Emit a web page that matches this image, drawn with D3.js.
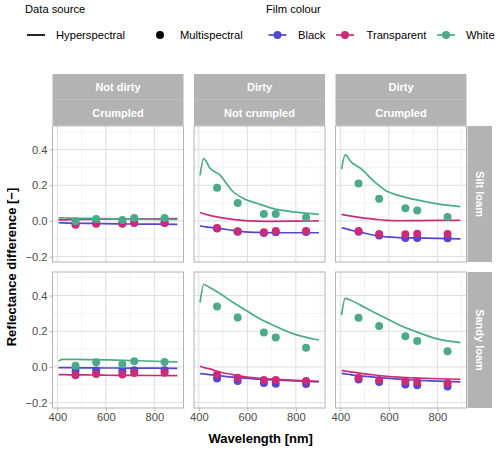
<!DOCTYPE html>
<html>
<head>
<meta charset="utf-8">
<script src="https://cdn.jsdelivr.net/npm/d3@7"></script>
<style>
  body { margin: 0; background: #fff; }
  svg { font-family: "Liberation Sans", Arial, sans-serif; }
</style>
</head>
<body>
<div id="chart"></div>
<script>
// facets
const dirtLabels = ["Not dirty", "Dirty", "Dirty"];
const crumpleLabels = ["Crumpled", "Not crumpled", "Crumpled"];
const soils = ["Silt loam", "Sandy loam"];
const films = ["Black", "Transparent", "White"];
const filmColours = ["#5547cc", "#cc2a7a", "#4caa8b"];

// wavelengths
const hyperWl = [405, 420, 445, 485, 540, 590, 640, 700, 800, 895];
const multiWl = [475, 560, 668, 717, 842];

const xTicks = [400, 600, 800];
const xMinor = [500, 700, 900];
const yTicks = [-0.2, 0.0, 0.2, 0.4];
const yMinor = [-0.1, 0.1, 0.3, 0.5];

// hyperspectral lines, per panel: [Black, Transparent, White]
const hyperSilt1 = [
    [-0.010, -0.011, -0.012, -0.013, -0.014, -0.015, -0.016, -0.017, -0.018, -0.019],
    [0.006, 0.006, 0.007, 0.008, 0.009, 0.010, 0.011, 0.012, 0.012, 0.013],
    [0.017, 0.017, 0.016, 0.015, 0.014, 0.013, 0.012, 0.011, 0.009, 0.008]
];
const hyperSilt2 = [
    [-0.028, -0.031, -0.036, -0.042, -0.053, -0.061, -0.064, -0.066, -0.066, -0.066],
    [0.047, 0.040, 0.031, 0.020, 0.009, 0.002, -0.001, -0.002, -0.001, 0.000],
    [0.255, 0.349, 0.297, 0.259, 0.165, 0.122, 0.099, 0.072, 0.049, 0.037]
];
const hyperSilt3 = [
    [-0.038, -0.043, -0.052, -0.064, -0.080, -0.089, -0.093, -0.095, -0.098, -0.100],
    [0.037, 0.033, 0.027, 0.019, 0.010, 0.003, 0.001, 0.002, 0.003, 0.004],
    [0.290, 0.370, 0.330, 0.293, 0.220, 0.168, 0.143, 0.122, 0.096, 0.080]
];
const hyperSandy1 = [
    [-0.004, -0.004, -0.004, -0.005, -0.005, -0.006, -0.006, -0.007, -0.007, -0.008],
    [-0.043, -0.043, -0.044, -0.044, -0.045, -0.046, -0.047, -0.047, -0.048, -0.049],
    [0.033, 0.042, 0.043, 0.042, 0.041, 0.040, 0.038, 0.036, 0.032, 0.028]
];
const hyperSandy2 = [
    [-0.037, -0.039, -0.043, -0.049, -0.057, -0.063, -0.068, -0.072, -0.078, -0.084],
    [0.004, -0.003, -0.011, -0.028, -0.043, -0.055, -0.062, -0.068, -0.075, -0.080],
    [0.360, 0.462, 0.445, 0.413, 0.363, 0.321, 0.279, 0.238, 0.181, 0.151]
];
const hyperSandy3 = [
    [-0.036, -0.039, -0.044, -0.050, -0.057, -0.063, -0.068, -0.073, -0.079, -0.084],
    [-0.019, -0.023, -0.028, -0.036, -0.045, -0.052, -0.057, -0.061, -0.066, -0.069],
    [0.290, 0.384, 0.372, 0.345, 0.305, 0.272, 0.237, 0.204, 0.157, 0.136]
];

// multispectral points, per panel: [Black, Transparent, White]
const multiSilt1 = [
    [-0.017, -0.012, -0.011, -0.008, -0.008],
    [-0.021, -0.016, -0.015, -0.012, -0.012],
    [-0.002, 0.011, 0.005, 0.017, 0.017]
];
const multiSilt2 = [
    [-0.042, -0.061, -0.068, -0.064, -0.062],
    [-0.040, -0.058, -0.064, -0.057, -0.057],
    [0.186, 0.101, 0.039, 0.039, 0.019]
];
const multiSilt3 = [
    [-0.060, -0.082, -0.096, -0.096, -0.097],
    [-0.057, -0.073, -0.075, -0.072, -0.073],
    [0.210, 0.124, 0.071, 0.058, 0.022]
];
const multiSandy1 = [
    [-0.022, -0.020, -0.022, -0.018, -0.018],
    [-0.046, -0.040, -0.043, -0.034, -0.032],
    [0.007, 0.026, 0.015, 0.032, 0.028]
];
const multiSandy2 = [
    [-0.065, -0.079, -0.090, -0.094, -0.096],
    [-0.043, -0.060, -0.073, -0.073, -0.079],
    [0.339, 0.277, 0.193, 0.165, 0.108]
];
const multiSandy3 = [
    [-0.071, -0.084, -0.099, -0.103, -0.110],
    [-0.062, -0.073, -0.080, -0.084, -0.092],
    [0.275, 0.229, 0.172, 0.146, 0.088]
];

const hyperPanels = [[hyperSilt1, hyperSilt2, hyperSilt3], [hyperSandy1, hyperSandy2, hyperSandy3]];
const multiPanels = [[multiSilt1, multiSilt2, multiSilt3], [multiSandy1, multiSandy2, multiSandy3]];

// layout
const width = 500, height = 450;
const colLeft = [52.5, 194, 335.5];
const panelW = 131;
const rowTop = [126, 272];
const panelH = 136;
const grey70 = "#b3b3b3";

const svg = d3.select("#chart")
    .append("svg")
    .attr("width", width)
    .attr("height", height);

const x = d3.scaleLinear().domain([380, 920]).range([0, panelW]);
const y = d3.scaleLinear().domain([-0.23, 0.532]).range([panelH, 0]);

const line = d3.line()
    .x((d, i) => x(hyperWl[i]))
    .y(d => y(d))
    .curve(d3.curveMonotoneX);

// top strips
colLeft.forEach(function(left, c) {
    const g = svg.append("g").attr("transform", "translate(" + left + ",0)");
    g.append("rect").attr("x", 0).attr("y", 74).attr("width", panelW).attr("height", 51.5).attr("fill", grey70);
    g.append("line").attr("x1", 0).attr("x2", panelW).attr("y1", 99.5).attr("y2", 99.5)
        .attr("stroke", "#c2c2c2").attr("stroke-width", 0.8);
    g.append("text").attr("x", panelW / 2).attr("y", 90.8)
        .attr("text-anchor", "middle").attr("fill", "white")
        .style("font-size", "11px").style("font-weight", "bold")
        .text(dirtLabels[c]);
    g.append("text").attr("x", panelW / 2).attr("y", 116.6)
        .attr("text-anchor", "middle").attr("fill", "white")
        .style("font-size", "11px").style("font-weight", "bold")
        .text(crumpleLabels[c]);
});

// right strips
rowTop.forEach(function(top, r) {
    const g = svg.append("g").attr("transform", "translate(467.5," + top + ")");
    g.append("rect").attr("x", 0).attr("y", 0).attr("width", 24.5).attr("height", panelH).attr("fill", grey70);
    g.append("text")
        .attr("transform", "translate(8.4," + (panelH / 2) + ") rotate(90)")
        .attr("text-anchor", "middle").attr("fill", "white")
        .style("font-size", "11px").style("font-weight", "bold")
        .text(soils[r]);
});

// panels
rowTop.forEach(function(top, r) {
    colLeft.forEach(function(left, c) {
        const g = svg.append("g").attr("transform", "translate(" + left + "," + top + ")");

        g.append("rect").attr("width", panelW).attr("height", panelH).attr("fill", "white");

        g.selectAll(".vminor").data(xMinor).enter().append("line")
            .attr("x1", d => x(d)).attr("x2", d => x(d))
            .attr("y1", 0).attr("y2", panelH)
            .attr("stroke", "#eeeeee").attr("stroke-width", 0.7);
        g.selectAll(".hminor").data(yMinor).enter().append("line")
            .attr("y1", d => y(d)).attr("y2", d => y(d))
            .attr("x1", 0).attr("x2", panelW)
            .attr("stroke", "#eeeeee").attr("stroke-width", 0.7);
        g.selectAll(".vmajor").data(xTicks).enter().append("line")
            .attr("x1", d => x(d)).attr("x2", d => x(d))
            .attr("y1", 0).attr("y2", panelH)
            .attr("stroke", "#dedede").attr("stroke-width", 1);
        g.selectAll(".hmajor").data(yTicks).enter().append("line")
            .attr("y1", d => y(d)).attr("y2", d => y(d))
            .attr("x1", 0).attr("x2", panelW)
            .attr("stroke", "#dedede").attr("stroke-width", 1);

        // hyperspectral lines
        hyperPanels[r][c].forEach(function(vals, f) {
            g.append("path").datum(vals)
                .attr("d", line)
                .attr("fill", "none")
                .attr("stroke", filmColours[f])
                .attr("stroke-width", 1.7);
        });

        // multispectral points
        multiPanels[r][c].forEach(function(vals, f) {
            g.selectAll(".pt" + f).data(vals).enter().append("circle")
                .attr("cx", (d, i) => x(multiWl[i]))
                .attr("cy", d => y(d))
                .attr("r", 4)
                .attr("fill", filmColours[f]);
        });

        g.append("rect").attr("width", panelW).attr("height", panelH)
            .attr("fill", "none").attr("stroke", grey70).attr("stroke-width", 1);

        // y axis on first column
        if (c === 0) {
            const ya = g.append("g").call(d3.axisLeft(y).tickValues(yTicks)
                .tickSize(3).tickPadding(2)
                .tickFormat(d3.format(".1f")));
            ya.select(".domain").remove();
            ya.selectAll("line").attr("stroke", grey70);
            ya.selectAll("text").attr("fill", "#4d4d4d").style("font-size", "11.2px")
                .style("font-family", "Liberation Sans, Arial, sans-serif")
                .text(d => d3.format(".1f")(d).replace("-", "\u2212"));
        }
        // x axis on bottom row
        if (r === 1) {
            const xa = g.append("g").attr("transform", "translate(0," + panelH + ")")
                .call(d3.axisBottom(x).tickValues(xTicks).tickSize(3).tickPadding(2));
            xa.select(".domain").remove();
            xa.selectAll("line").attr("stroke", grey70);
            xa.selectAll("text").attr("fill", "#4d4d4d").style("font-size", "11.2px")
                .style("font-family", "Liberation Sans, Arial, sans-serif");
        }
    });
});

// axis titles
svg.append("text")
    .attr("x", 260.7).attr("y", 442.5)
    .attr("text-anchor", "middle")
    .style("font-size", "13px").style("font-weight", "bold")
    .text("Wavelength [nm]");

svg.append("text")
    .attr("transform", "translate(15.5,267) rotate(-90)")
    .attr("text-anchor", "middle")
    .style("font-size", "13px").style("font-weight", "bold")
    .text("Reflectance difference [\u2212]");

// legend: data source
const legend = svg.append("g");
legend.append("text").attr("x", 25).attr("y", 13.2).style("font-size", "11.2px").text("Data source");
legend.append("line").attr("x1", 27).attr("x2", 45).attr("y1", 35).attr("y2", 35)
    .attr("stroke", "black").attr("stroke-width", 1.7);
legend.append("text").attr("x", 56).attr("y", 38.8).style("font-size", "11.2px").text("Hyperspectral");
legend.append("circle").attr("cx", 160).attr("cy", 35).attr("r", 4).attr("fill", "black");
legend.append("text").attr("x", 180).attr("y", 38.8).style("font-size", "11.2px").text("Multispectral");

// legend: film colour
const filmKeyX = [268.5, 336, 437];
const filmTextX = [298, 366.5, 466];
legend.append("text").attr("x", 266).attr("y", 13.2).style("font-size", "11.2px").text("Film colour");
films.forEach(function(f, i) {
    legend.append("line").attr("x1", filmKeyX[i]).attr("x2", filmKeyX[i] + 18).attr("y1", 35).attr("y2", 35)
        .attr("stroke", filmColours[i]).attr("stroke-width", 1.7);
    legend.append("circle").attr("cx", filmKeyX[i] + 9).attr("cy", 35).attr("r", 4).attr("fill", filmColours[i]);
    legend.append("text").attr("x", filmTextX[i]).attr("y", 38.8).style("font-size", "11.2px").text(f);
});
</script>
</body>
</html>
